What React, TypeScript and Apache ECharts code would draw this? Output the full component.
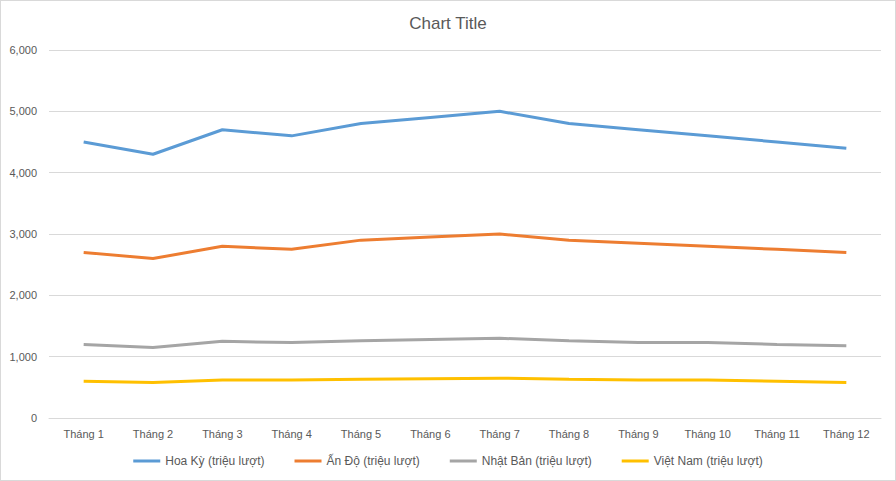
import React, { useEffect, useRef } from "react";
import * as echarts from "echarts";

const categories = ["Tháng 1", "Tháng 2", "Tháng 3", "Tháng 4", "Tháng 5", "Tháng 6", "Tháng 7", "Tháng 8", "Tháng 9", "Tháng 10", "Tháng 11", "Tháng 12"];
const hoaKy = [4500, 4300, 4700, 4600, 4800, 4900, 5000, 4800, 4700, 4600, 4500, 4400];
const anDo = [2700, 2600, 2800, 2750, 2900, 2950, 3000, 2900, 2850, 2800, 2750, 2700];
const nhatBan = [1200, 1150, 1250, 1230, 1260, 1280, 1300, 1260, 1230, 1230, 1200, 1180];
const vietNam = [600, 580, 620, 620, 630, 640, 650, 630, 620, 620, 600, 580];
const seriesNames = ["Hoa Kỳ (triệu lượt)", "Ấn Độ (triệu lượt)", "Nhật Bản (triệu lượt)", "Việt Nam (triệu lượt)"];
const colors = ["#5B9BD5", "#ED7D31", "#A5A5A5", "#FFC000"];

const FONT = "'Liberation Sans', sans-serif";

export default function App() {
  const ref = useRef<HTMLDivElement>(null);
  useEffect(() => {
    document.body.style.margin = "0";
    const chart = echarts.init(ref.current!, null, { renderer: "svg" });
    const data = [hoaKy, anDo, nhatBan, vietNam];
    chart.setOption({
      animation: false,
      backgroundColor: "#ffffff",
      color: colors,
      title: {
        text: "Chart Title",
        left: "center",
        top: 9,
        textStyle: { fontFamily: FONT, fontSize: 17, fontWeight: "normal", color: "#595959" },
      },
      grid: { left: 48, right: 14, top: 49, bottom: 62 },
      legend: {
        bottom: 8,
        left: "center",
        icon: "rect",
        itemWidth: 27,
        itemHeight: 3,
        itemGap: 30,
        textStyle: { fontFamily: FONT, fontSize: 12, color: "#595959" },
        data: seriesNames,
      },
      xAxis: {
        type: "category",
        data: categories,
        boundaryGap: true,
        axisLine: { lineStyle: { color: "#d9d9d9" } },
        axisTick: { show: false },
        axisLabel: { fontFamily: FONT, fontSize: 11, color: "#595959", margin: 10 },
      },
      yAxis: {
        type: "value",
        min: 0,
        max: 6000,
        interval: 1000,
        axisLine: { show: false },
        axisTick: { show: false },
        splitLine: { lineStyle: { color: "#d9d9d9" } },
        axisLabel: {
          fontFamily: FONT,
          fontSize: 11,
          color: "#595959",
          margin: 12,
          formatter: (v: number) => v.toLocaleString("en-US"),
        },
      },
      series: seriesNames.map((name, i) => ({
        name,
        type: "line",
        data: data[i],
        symbol: "none",
        lineStyle: { width: 3, color: colors[i] },
        itemStyle: { color: colors[i] },
      })),
    });
    return () => chart.dispose();
  }, []);
  return (
    <div
      ref={ref}
      style={{ width: 896, height: 481, boxSizing: "border-box", border: "1px solid #d9d9d9" }}
    />
  );
}
